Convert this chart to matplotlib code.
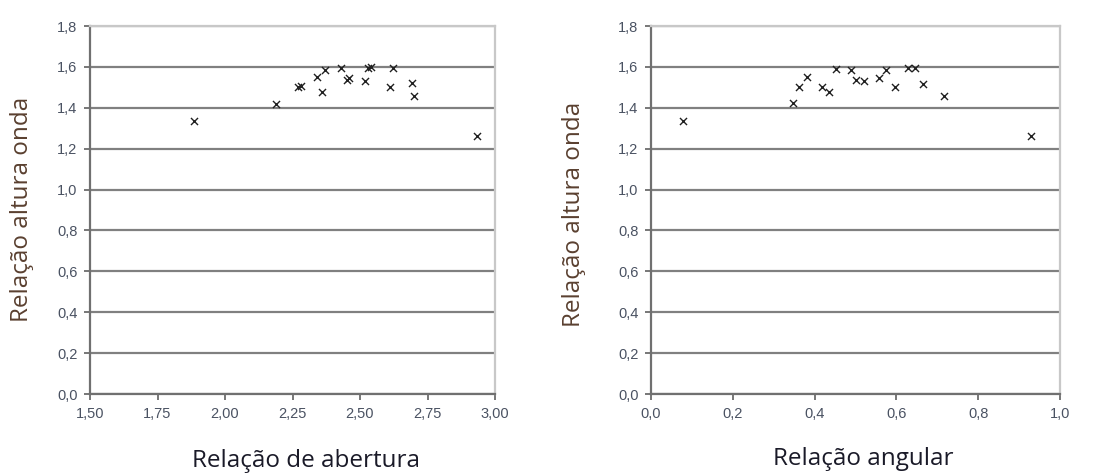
import matplotlib
matplotlib.use('Agg')
import matplotlib.pyplot as plt
from matplotlib.ticker import FuncFormatter

# data
abertura = [1.886, 2.188, 2.270, 2.280, 2.340, 2.360, 2.370, 2.428, 2.450,
            2.460, 2.519, 2.530, 2.540, 2.611, 2.623, 2.694, 2.701, 2.934]
altura_abertura = [1.337, 1.419, 1.503, 1.505, 1.549, 1.476, 1.585, 1.593, 1.538,
                   1.544, 1.531, 1.594, 1.598, 1.503, 1.593, 1.520, 1.458, 1.262]

angular = [0.079, 0.348, 0.363, 0.382, 0.417, 0.435, 0.452, 0.489, 0.501,
           0.522, 0.558, 0.575, 0.597, 0.629, 0.645, 0.666, 0.717, 0.929]
altura_angular = [1.337, 1.422, 1.503, 1.549, 1.503, 1.476, 1.590, 1.585, 1.536,
                  1.533, 1.544, 1.585, 1.503, 1.596, 1.593, 1.516, 1.458, 1.262]

y_ticks = [0.0, 0.2, 0.4, 0.6, 0.8, 1.0, 1.2, 1.4, 1.6, 1.8]
x_ticks_abertura = [1.50, 1.75, 2.00, 2.25, 2.50, 2.75, 3.00]
x_ticks_angular = [0.0, 0.2, 0.4, 0.6, 0.8, 1.0]

TICK_COLOR = '#4a5262'
GRID_COLOR = '#808080'
YLABEL_COLOR = '#5a4030'


def comma_fmt(decimals):
    return FuncFormatter(lambda v, pos: f'{v:.{decimals}f}'.replace('.', ','))


def style_axes(ax, xticks, xdec):
    ax.set_ylim(0, 1.8)
    ax.set_xlim(xticks[0], xticks[-1])
    ax.set_yticks(y_ticks)
    ax.set_xticks(xticks)
    ax.yaxis.set_major_formatter(comma_fmt(1))
    ax.xaxis.set_major_formatter(comma_fmt(xdec))
    ax.grid(axis='y', color=GRID_COLOR, linewidth=1.6, zorder=1)
    ax.set_axisbelow(True)
    for side in ['left', 'bottom']:
        ax.spines[side].set_color('#707070')
        ax.spines[side].set_linewidth(1.6)
    for side in ['top', 'right']:
        ax.spines[side].set_color('#c8c8c8')
        ax.spines[side].set_linewidth(1.6)
    ax.tick_params(direction='out', length=4, width=1.2, color='#606060',
                   labelcolor=TICK_COLOR, labelsize=10.5, pad=5)
    for lab in ax.get_xticklabels() + ax.get_yticklabels():
        lab.set_family(['Liberation Sans', 'DejaVu Sans'])


fig = plt.figure(figsize=(11.06, 4.73), dpi=100)

ax1 = fig.add_axes([90 / 1106, 79 / 473, 405 / 1106, 368 / 473])
ax1.scatter(abertura, altura_abertura, marker='x', s=26, color='#202020',
            linewidths=1.0, zorder=3)
style_axes(ax1, x_ticks_abertura, 2)

ax2 = fig.add_axes([651 / 1106, 79 / 473, 409 / 1106, 368 / 473])
ax2.scatter(angular, altura_angular, marker='x', s=26, color='#202020',
            linewidths=1.0, zorder=3)
style_axes(ax2, x_ticks_angular, 1)

label_font = dict(family=['Open Sans', 'DejaVu Sans'], fontsize=17.5)
fig.text(306 / 1106, 1 - 461 / 473, 'Relação de abertura', ha='center', va='center',
         color='#1a1a28', **label_font)
fig.text(863 / 1106, 1 - 459 / 473, 'Relação angular', ha='center', va='center',
         color='#1a1a28', **label_font)
fig.text(22 / 1106, 1 - 209 / 473, 'Relação altura onda', ha='center', va='center',
         rotation=90, color=YLABEL_COLOR, **label_font)
fig.text(574 / 1106, 1 - 214 / 473, 'Relação altura onda', ha='center', va='center',
         rotation=90, color=YLABEL_COLOR, **label_font)

fig.savefig('out.png', dpi=100)
